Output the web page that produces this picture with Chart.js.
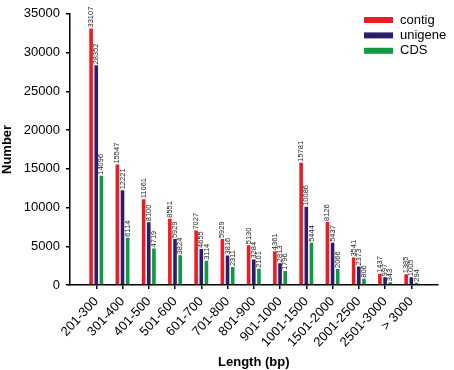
<!DOCTYPE html>
<html><head><meta charset="utf-8">
<script src="https://cdn.jsdelivr.net/npm/chart.js@4/dist/chart.umd.min.js"></script>
<style>html,body{margin:0;padding:0;background:#fff}</style>
</head><body>
<canvas id="c" width="454" height="370"></canvas>
<script>
const categories = ['201-300','301-400','401-500','501-600','601-700','701-800','801-900','901-1000','1001-1500','1501-2000','2001-2500','2501-3000','> 3000'];
const contig  = [33107,15547,11061,8551,7027,5929,5130,4361,15781,8126,3541,1437,1385];
const unigene = [28352,12221,8100,5929,4655,3816,3284,2813,10086,5437,2373,997,1005];
const cds     = [14096,6114,4719,3824,3114,2311,2101,1796,5444,2066,806,343,294];
const seriesNames = ['contig','unigene','CDS'];
const seriesColors = ['#ec1c24','#2d1b6e','#0e9a42'];
const yMax = 35000, yStep = 5000;

const FONT = "'Liberation Sans', Arial, sans-serif";
const labels = ['', ...categories, ''];
const pad = a => [null, ...a, null];
const seriesData = [contig, unigene, cds];

const valueLabels = {
  id: 'valueLabels',
  afterDatasetsDraw(chart) {
    const ctx = chart.ctx;
    ctx.save();
    ctx.font = '7.5px ' + FONT;
    ctx.fillStyle = '#222';
    ctx.textAlign = 'left';
    ctx.textBaseline = 'middle';
    chart.data.datasets.forEach((ds, di) => {
      const meta = chart.getDatasetMeta(di);
      meta.data.forEach((el, i) => {
        const v = ds.data[i];
        if (v == null) return;
        ctx.save();
        ctx.translate(el.x, el.y - 1);
        ctx.rotate(-Math.PI / 2);
        ctx.fillText(String(v), 0, 0);
        ctx.restore();
      });
    });
    ctx.restore();
  }
};

const legendPlugin = {
  id: 'customLegend',
  afterDraw(chart) {
    const ctx = chart.ctx;
    ctx.save();
    ctx.font = '13px ' + FONT;
    ctx.textBaseline = 'middle';
    ctx.textAlign = 'left';
    chart.data.datasets.forEach((ds, i) => {
      const y = 20 + i * 15.4;
      ctx.fillStyle = ds.backgroundColor;
      ctx.fillRect(364, y - 3, 29, 6);
      ctx.fillStyle = '#000';
      ctx.fillText(ds.label, 400, y);
    });
    ctx.restore();
  }
};

new Chart(document.getElementById('c'), {
  type: 'bar',
  data: {
    labels,
    datasets: seriesNames.map((n, i) => ({
      label: n,
      data: pad(seriesData[i]),
      backgroundColor: seriesColors[i],
      borderWidth: 0,
      categoryPercentage: 0.59,
      barPercentage: 0.7
    }))
  },
  options: {
    responsive: false,
    animation: false,
    layout: { padding: { left: 0, top: 11, right: 7, bottom: 0 } },
    plugins: { legend: { display: false }, tooltip: { enabled: false } },
    scales: {
      x: {
        offset: false,
        grid: {
          offset: false,
          drawOnChartArea: false,
          drawTicks: true,
          tickLength: 4,
          lineWidth: 1.5,
          color: ctx => (ctx.index === 0 || ctx.index === labels.length - 1) ? 'rgba(0,0,0,0)' : '#000'
        },
        border: { display: true, color: '#000', width: 1.5 },
        ticks: {
          autoSkip: false, maxRotation: 47, minRotation: 47, padding: 5,
          color: '#000', font: { family: FONT, size: 13 }
        },
        title: { display: true, text: 'Length (bp)', color: '#000',
          font: { family: FONT, size: 13, weight: 'bold' }, padding: { top: 0, bottom: 0 } },
        afterFit(s) { s.height = 85; }
      },
      y: {
        min: 0, max: yMax,
        grid: { drawOnChartArea: false, drawTicks: true, tickLength: 4, lineWidth: 1.5, color: '#000' },
        border: { display: true, color: '#000', width: 1.5 },
        ticks: { stepSize: yStep, padding: 6, color: '#000', font: { family: FONT, size: 13 },
          callback: v => String(v) },
        title: { display: true, text: 'Number', color: '#000',
          font: { family: FONT, size: 13, weight: 'bold' }, padding: { top: 0, bottom: 4 } },
        afterFit(s) { s.width = 70; }
      }
    }
  },
  plugins: [valueLabels, legendPlugin]
});
</script>
</body></html>
